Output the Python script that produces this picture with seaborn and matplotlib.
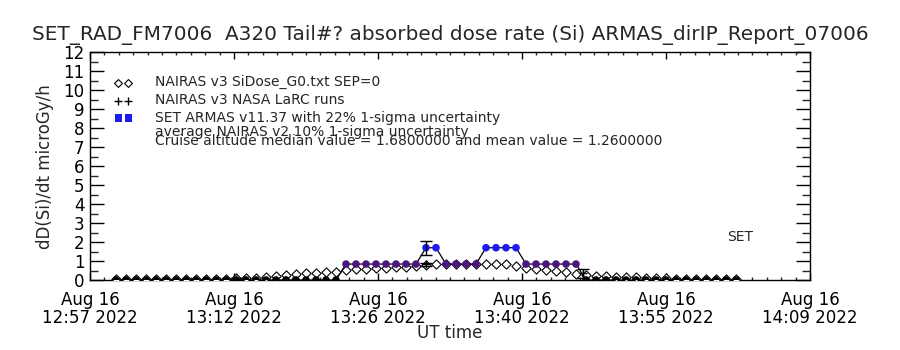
import numpy as np
import pandas as pd
import matplotlib
matplotlib.use("Agg")
import matplotlib.pyplot as plt
import seaborn as sns
from matplotlib.ticker import MultipleLocator, FixedLocator

# ---------------- data (minutes after 12:57 UT, Aug 16 2022) ----------------
minutes = [2.6, 3.6, 4.6, 5.6, 6.6, 7.6, 8.6, 9.6, 10.6, 11.6,
           12.6, 13.6, 14.6, 15.6, 16.6, 17.6, 18.6, 19.6, 20.6, 21.6,
           22.6, 23.6, 24.6, 25.6, 26.6, 27.6, 28.6, 29.6, 30.6, 31.6,
           32.6, 33.6, 34.6, 35.6, 36.6, 37.6, 38.6, 39.6, 40.6, 41.6,
           42.6, 43.6, 44.6, 45.6, 46.6, 47.6, 48.6, 49.6, 50.6, 51.6,
           52.6, 53.6, 54.6, 55.6, 56.6, 57.6, 58.6, 59.6, 60.6, 61.6,
           62.6, 63.6, 64.6]
nairas_v3 = [0.04, 0.04, 0.05, 0.05, 0.05, 0.05, 0.05, 0.06, 0.06, 0.06,
             0.07, 0.07, 0.08, 0.09, 0.10, 0.15, 0.22, 0.28, 0.30, 0.35,
             0.38, 0.40, 0.42, 0.54, 0.56, 0.60, 0.61, 0.62, 0.67, 0.70,
             0.74, 0.78, 0.82, 0.83, 0.84, 0.84, 0.84, 0.82, 0.82, 0.82,
             0.72, 0.62, 0.60, 0.52, 0.45, 0.40, 0.32, 0.26, 0.22, 0.20,
             0.18, 0.16, 0.14, 0.12, 0.10, 0.08, 0.05, 0.05, 0.04, 0.04,
             0.04, 0.04, 0.04]
set_armas = [0.0, 0.0, 0.0, 0.0, 0.0, 0.0, 0.0, 0.0, 0.0, 0.0,
             0.0, 0.0, 0.0, 0.0, 0.0, 0.0, 0.0, 0.0, 0.0, 0.0,
             0.0, 0.0, 0.0, 0.84, 0.84, 0.84, 0.84, 0.84, 0.84, 0.84,
             0.84, 1.70, 1.70, 0.84, 0.84, 0.84, 0.84, 1.70, 1.70, 1.70,
             1.70, 0.84, 0.84, 0.84, 0.84, 0.84, 0.84, 0.0, 0.0, 0.0,
             0.0, 0.0, 0.0, 0.0, 0.0, 0.0, 0.0, 0.0, 0.0, 0.0,
             0.0, 0.0, 0.0]
larc_minutes = [14.6, 33.6, 49.3]
larc_dose = [0.05, 0.82, 0.35]
larc_err = [0.03, 0.08, 0.22]
set_err_minutes = [33.6]
set_err_dose = [1.70]
set_err = [0.36]
tick_minutes = [0.0, 14.4, 28.8, 43.2, 57.6, 72.0]
tick_labels = ["Aug 16\n12:57 2022", "Aug 16\n13:12 2022", "Aug 16\n13:26 2022",
               "Aug 16\n13:40 2022", "Aug 16\n13:55 2022", "Aug 16\n14:09 2022"]
y_ticks = list(range(0, 13))

title = "SET_RAD_FM7006  A320 Tail#? absorbed dose rate (Si) ARMAS_dirIP_Report_07006"
legend_lines = ["NAIRAS v3 SiDose_G0.txt SEP=0",
                "NAIRAS v3 NASA LaRC runs",
                "SET ARMAS v11.37 with 22% 1-sigma uncertainty",
                "average NAIRAS v2 10% 1-sigma uncertainty",
                "Cruise altitude median value = 1.6800000 and mean value = 1.2600000"]

# ---------------- figure ----------------
sns.set_style("white")
plt.rcParams["font.family"] = ["DejaVu Sans"]

df = pd.DataFrame({"t": minutes, "nairas": nairas_v3, "set": set_armas})
df["phase"] = np.where(df["set"] > 1.2, "cruise", np.where(df["set"] > 0, "climb", "ground"))
pal = {"cruise": "#1c1cf0", "climb": "#4b1680", "ground": "#000000"}

fig = plt.figure(figsize=(9, 3.5), dpi=100)
ax = fig.add_axes([0.1, 0.2, 0.8, 0.651])

sns.scatterplot(data=df, x="t", y="nairas", marker="D", s=22, facecolor="white",
                edgecolor="black", linewidth=0.8, ax=ax, zorder=3, legend=False)
sns.lineplot(data=df, x="t", y="set", color="black", linewidth=0.9, ax=ax,
             zorder=4, legend=False)
sns.scatterplot(data=df, x="t", y="set", hue="phase", palette=pal, marker="o", s=30,
                edgecolor="none", ax=ax, zorder=5, legend=False)
sns.scatterplot(x=larc_minutes, y=larc_dose, marker="+", s=30, color="black",
                linewidth=1.0, ax=ax, zorder=6, legend=False)
ax.errorbar(larc_minutes, larc_dose, yerr=larc_err, fmt="none", ecolor="black",
            elinewidth=1.0, capsize=4, capthick=1.0, zorder=6)
ax.errorbar(set_err_minutes, set_err_dose, yerr=set_err, fmt="none", ecolor="black",
            elinewidth=1.0, capsize=4, capthick=1.0, zorder=6)

ax.set_xlim(0, 72)
ax.set_ylim(0, 12)
ax.xaxis.set_major_locator(FixedLocator(tick_minutes))
ax.xaxis.set_minor_locator(MultipleLocator(1.44))
ax.set_xticklabels(tick_labels, fontsize=12, linespacing=1.0)
ax.yaxis.set_major_locator(FixedLocator(y_ticks))
ax.yaxis.set_minor_locator(MultipleLocator(0.5))
ax.set_yticklabels([str(v) for v in y_ticks], fontsize=12)
ax.tick_params(axis="y", which="major", direction="in", length=10, width=1,
               left=True, right=True, pad=4, colors="black")
ax.tick_params(axis="y", which="minor", direction="in", length=6, width=1,
               left=True, right=True)
ax.tick_params(axis="x", which="major", direction="in", length=5, width=1,
               bottom=True, top=True, pad=8, colors="black")
ax.tick_params(axis="x", which="minor", direction="in", length=2.5, width=1,
               bottom=True, top=True)
for sp in ax.spines.values():
    sp.set_color("black")
    sp.set_linewidth(1.0)
ax.set_xlabel("")
ax.set_ylabel("")

fig.text(0.5, 0.90, title, ha="center", va="center", fontsize=14.4)
fig.text(0.05, 0.525, "dD(Si)/dt microGy/h", rotation=90, ha="center", va="center",
         fontsize=12)
fig.text(0.5, 0.049, "UT time", ha="center", va="center", fontsize=12)

# legend block
leg_y_mark = [0.864, 0.785, 0.711]
leg_text_y = [0.868, 0.789, 0.711, 0.649, 0.608]
mx = [0.039, 0.053]
ax.scatter(mx, [leg_y_mark[0]] * 2, marker="D", s=16, facecolor="white",
           edgecolor="black", linewidth=0.8, transform=ax.transAxes, clip_on=False)
ax.scatter(mx, [leg_y_mark[1]] * 2, marker="+", s=30, color="black", linewidth=1.0,
           transform=ax.transAxes, clip_on=False)
ax.scatter(mx, [leg_y_mark[2]] * 2, marker="s", s=26, color="#1c1cf0",
           edgecolor="none", transform=ax.transAxes, clip_on=False)
for txt, yy in zip(legend_lines, leg_text_y):
    ax.text(0.090, yy, txt, transform=ax.transAxes, ha="left", va="center",
            fontsize=10)
ax.text(0.903, 0.189, "SET", transform=ax.transAxes, ha="center", va="center",
        fontsize=10)

fig.savefig("out.png", dpi=100)
